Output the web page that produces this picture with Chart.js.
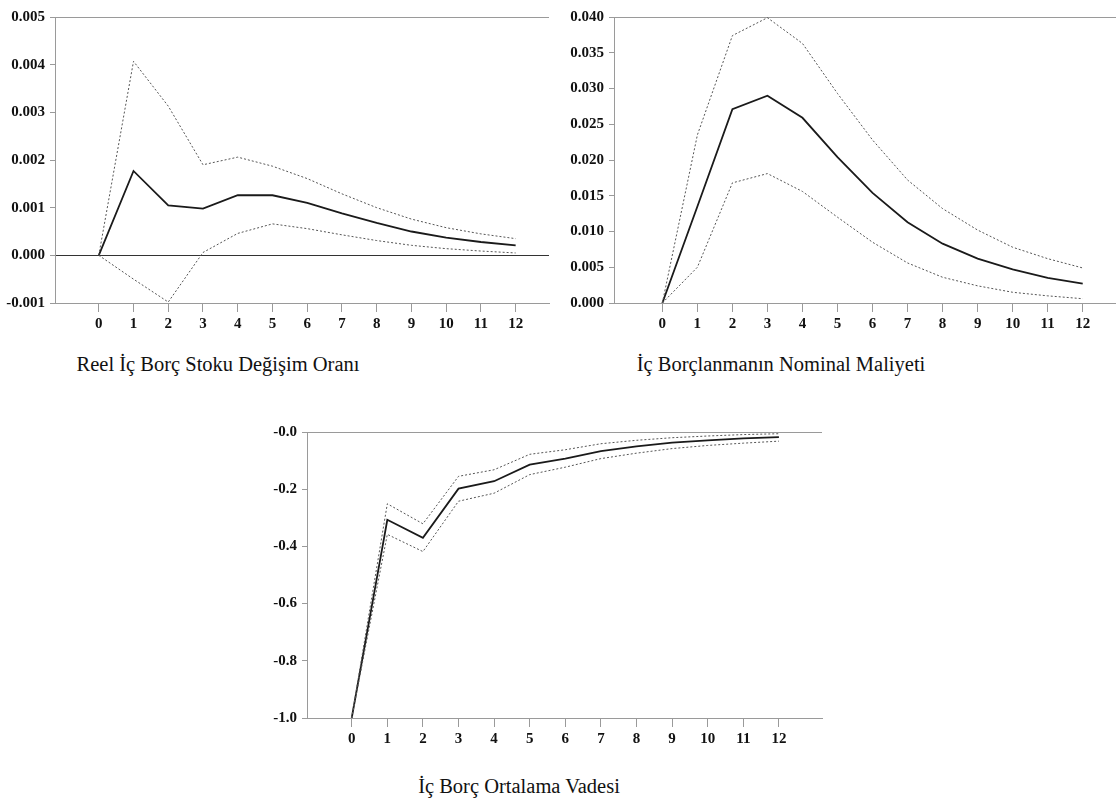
<!DOCTYPE html>
<html>
<head>
<meta charset="utf-8">
<script src="https://cdn.jsdelivr.net/npm/chart.js@4.4.1/dist/chart.umd.min.js"></script>
<style>
  html, body { margin: 0; padding: 0; background: #fff; }
  #page { position: relative; width: 1116px; height: 803px; overflow: hidden; }
  .box { position: absolute; }
  .title { position: absolute; font-family: 'Liberation Serif', 'Times New Roman', serif; font-size: 20.5px; color: #111; text-align: center; line-height: 20px; white-space: nowrap; }
</style>
</head>
<body>
<div id="page">
  <div class="box" style="left:0;top:0;width:560px;height:340px;"><canvas id="c1"></canvas></div>
  <div class="box" style="left:560px;top:0;width:556px;height:340px;"><canvas id="c2"></canvas></div>
  <div class="box" style="left:250px;top:410px;width:580px;height:345px;"><canvas id="c3"></canvas></div>
  <div class="title" style="left:-2px;top:354px;width:440px;">Reel İç Borç Stoku Değişim Oranı</div>
  <div class="title" style="left:561px;top:354px;width:440px;">İç Borçlanmanın Nominal Maliyeti</div>
  <div class="title" style="left:299px;top:776px;width:440px;">İç Borç Ortalama Vadesi</div>
</div>
<script>
// impulse-response horizon
var periods = [0, 1, 2, 3, 4, 5, 6, 7, 8, 9, 10, 11, 12];

// Reel İç Borç Stoku Değişim Oranı
var stokMean  = [0, 0.00177, 0.00105, 0.00098, 0.00126, 0.00126, 0.00110, 0.00088, 0.00068, 0.00050, 0.00037, 0.00028, 0.00021];
var stokUpper = [0, 0.00407, 0.00313, 0.00190, 0.00206, 0.00187, 0.00161, 0.00129, 0.00100, 0.00076, 0.00058, 0.00045, 0.00035];
var stokLower = [0, -0.00050, -0.00098, 0.00006, 0.00046, 0.00066, 0.00056, 0.00043, 0.00031, 0.00021, 0.00014, 0.00009, 0.00005];
var stokTicks = [-0.001, 0.000, 0.001, 0.002, 0.003, 0.004, 0.005];

// İç Borçlanmanın Nominal Maliyeti
var malMean  = [0, 0.0135, 0.0271, 0.0290, 0.0259, 0.0204, 0.0154, 0.0113, 0.0083, 0.0062, 0.0047, 0.0035, 0.0027];
var malUpper = [0, 0.0235, 0.0374, 0.0399, 0.0363, 0.0293, 0.0228, 0.0172, 0.0132, 0.0102, 0.0078, 0.0062, 0.0049];
var malLower = [0, 0.0050, 0.0168, 0.0181, 0.0156, 0.0120, 0.0085, 0.0056, 0.0036, 0.0024, 0.0015, 0.0010, 0.0006];
var malTicks = [0.000, 0.005, 0.010, 0.015, 0.020, 0.025, 0.030, 0.035, 0.040];

// İç Borç Ortalama Vadesi
var vadeMean  = [-1.0, -0.307, -0.370, -0.198, -0.172, -0.114, -0.093, -0.067, -0.050, -0.037, -0.029, -0.022, -0.018];
var vadeUpper = [-1.0, -0.251, -0.321, -0.155, -0.132, -0.078, -0.062, -0.041, -0.029, -0.020, -0.014, -0.009, -0.006];
var vadeLower = [-1.0, -0.358, -0.418, -0.242, -0.214, -0.149, -0.123, -0.093, -0.074, -0.058, -0.047, -0.039, -0.032];
var vadeTicks = [-1.0, -0.8, -0.6, -0.4, -0.2, 0.0];

var AXIS = '#9a9a9a';
var TICKFONT = { family: "'Liberation Serif', 'Times New Roman', serif", size: 15, weight: 'bold' };

function pts(ys) {
  return periods.map(function (p, i) { return { x: p, y: ys[i] }; });
}

function makeIrf(id, cfg) {
  var tickVals = cfg.ticks;
  var yMin = tickVals[0], yMax = tickVals[tickVals.length - 1];
  new Chart(document.getElementById(id), {
    type: 'line',
    data: {
      datasets: [
        { data: pts(cfg.upper), borderColor: '#555', borderWidth: 1, borderDash: [2, 2], pointRadius: 0, tension: 0 },
        { data: pts(cfg.lower), borderColor: '#555', borderWidth: 1, borderDash: [2, 2], pointRadius: 0, tension: 0 },
        { data: pts(cfg.mean),  borderColor: '#1a1a1a', borderWidth: 1.8, pointRadius: 0, tension: 0 }
      ]
    },
    options: {
      responsive: true,
      maintainAspectRatio: false,
      animation: false,
      events: [],
      layout: { padding: cfg.padding },
      plugins: { legend: { display: false }, tooltip: { enabled: false } },
      scales: {
        x: {
          type: 'linear',
          min: cfg.xMin, max: cfg.xMax,
          afterBuildTicks: function (s) { s.ticks = periods.map(function (p) { return { value: p }; }); },
          afterFit: function (s) { s.height = 30; },
          border: { color: AXIS, width: 1 },
          grid: { drawOnChartArea: false, tickLength: 9, color: AXIS },
          ticks: { color: '#111', font: TICKFONT, padding: 3, maxRotation: 0, autoSkip: false,
                   callback: function (v) { return String(v); } }
        },
        y: {
          min: yMin, max: yMax,
          afterBuildTicks: function (s) { s.ticks = tickVals.map(function (v) { return { value: v }; }); },
          afterFit: function (s) { s.width = cfg.yWidth; },
          border: { color: AXIS, width: 1 },
          grid: {
            tickLength: 5,
            tickColor: AXIS,
            color: function (c) {
              var v = c.tick ? c.tick.value : null;
              if (v === null) return 'transparent';
              if (Math.abs(v - yMax) < 1e-9) return AXIS;
              if (cfg.zeroLine && Math.abs(v) < 1e-9) return '#333';
              return 'transparent';
            }
          },
          ticks: { color: '#111', font: TICKFONT, padding: 5, callback: cfg.fmt }
        }
      }
    }
  });
}

makeIrf('c1', {
  mean: stokMean, upper: stokUpper, lower: stokLower, ticks: stokTicks,
  xMin: -1.26, xMax: 12.96, yWidth: 55, zeroLine: true,
  padding: { left: 0, top: 17, right: 11, bottom: 7 },
  fmt: function (v) { return v.toFixed(3); }
});

makeIrf('c2', {
  mean: malMean, upper: malUpper, lower: malLower, ticks: malTicks,
  xMin: -1.38, xMax: 12.95, yWidth: 54, zeroLine: false,
  padding: { left: 0, top: 17, right: 0, bottom: 7 },
  fmt: function (v) { return v.toFixed(3); }
});

makeIrf('c3', {
  mean: vadeMean, upper: vadeUpper, lower: vadeLower, ticks: vadeTicks,
  xMin: -1.256, xMax: 13.21, yWidth: 57, zeroLine: false,
  padding: { left: 0, top: 22, right: 8, bottom: 7 },
  fmt: function (v) { return (v <= 0 ? '-' : '') + Math.abs(v).toFixed(1); }
});
</script>
</body>
</html>
